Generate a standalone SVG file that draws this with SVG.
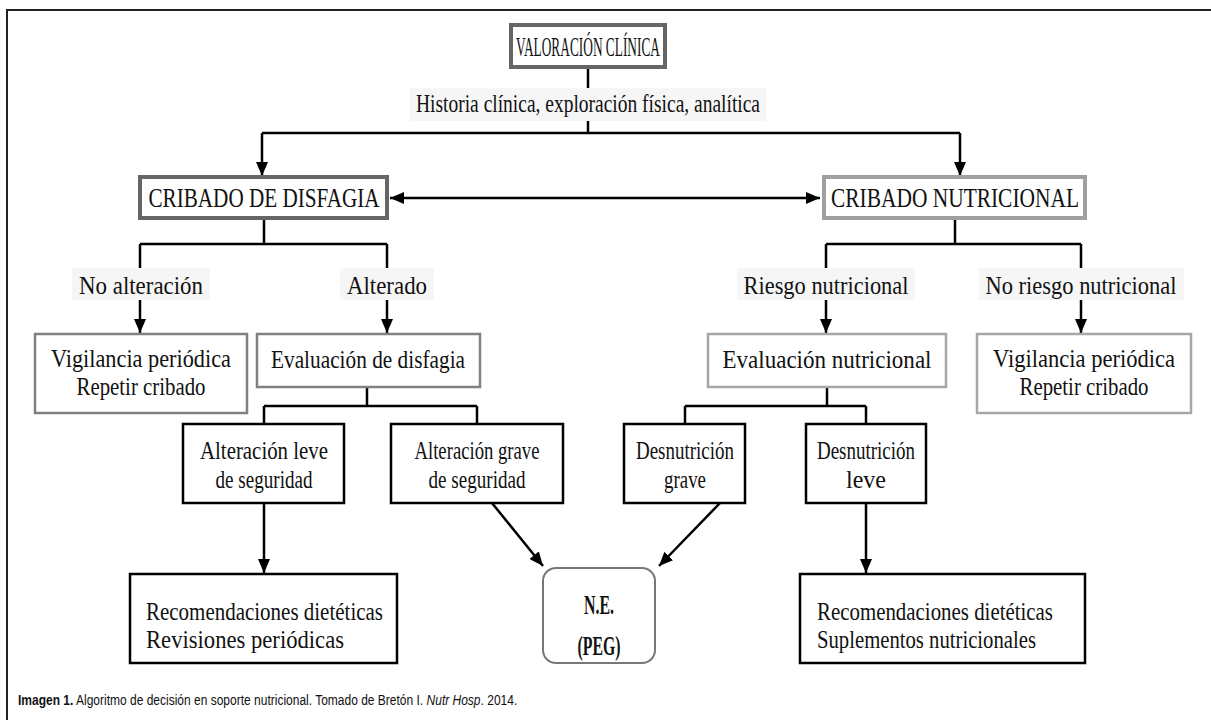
<svg xmlns="http://www.w3.org/2000/svg" width="1211" height="720" viewBox="0 0 1211 720">
<style>
  .t{font-family:"Liberation Serif","Times New Roman",serif;font-size:25px;fill:#111;}
  .u{font-size:27px;}
  .b{font-weight:bold;font-size:27px;}
  .c{text-anchor:middle;}
  .conn{stroke:#000;stroke-width:2.5;fill:none;}
  .arr{marker-end:url(#ah);}
  .lbl{fill:#f6f6f6;stroke:none;}
  .dk{fill:#fff;stroke:#666;stroke-width:4;}
  .md{fill:#fff;stroke:#808080;stroke-width:2.5;}
  .lt{fill:#fff;stroke:#a6a6a6;stroke-width:2.5;}
  .lt4{fill:#fff;stroke:#a0a0a0;stroke-width:4;}
  .bk{fill:#fff;stroke:#000;stroke-width:2.5;}
  .cap{font-family:"Liberation Sans",Arial,sans-serif;font-size:15px;fill:#111;}
</style>
<defs>
  <marker id="ah" viewBox="0 0 14 12" refX="14" refY="6" markerWidth="14" markerHeight="12" markerUnits="userSpaceOnUse" orient="auto-start-reverse">
    <path d="M0,0 L14,6 L0,12 z" fill="#000"/>
  </marker>
</defs>
<rect x="0" y="0" width="1211" height="720" fill="#fff"/>
<path d="M7,720 V10 H1211" fill="none" stroke="#222" stroke-width="2"/>

<g id="connectors">
  <path class="conn" d="M588,67 V133"/>
  <path class="conn" d="M262,133 H960"/>
  <path class="conn arr" d="M262,133 V176"/>
  <path class="conn arr" d="M960,133 V176"/>
  <path class="conn" d="M390,198 H820" marker-start="url(#ah)" marker-end="url(#ah)"/>
  <path class="conn" d="M264,218 V244 M140,244 H387 M140,244 V268 M387,244 V268"/>
  <path class="conn arr" d="M140,300 V333"/>
  <path class="conn arr" d="M387,300 V333"/>
  <path class="conn" d="M955,218 V244 M826,244 H1081 M826,244 V268 M1081,244 V268"/>
  <path class="conn arr" d="M826,300 V333"/>
  <path class="conn arr" d="M1081,300 V333"/>
  <path class="conn" d="M367,387 V406 M264,406 H477 M264,406 V424 M477,406 V424"/>
  <path class="conn" d="M827,387 V406 M685,406 H866 M685,406 V424 M866,406 V424"/>
  <path class="conn arr" d="M264,503 V573"/>
  <path class="conn arr" d="M492,503 L543,566"/>
  <path class="conn arr" d="M720,503 L659,566"/>
  <path class="conn arr" d="M866,503 V573"/>
</g>

<g id="lbl-historia"><rect class="lbl" x="410" y="88" width="356" height="33"/><text class="t c" x="588" y="112" textLength="344" lengthAdjust="spacingAndGlyphs">Historia clínica, exploración física, analítica</text></g>
<g id="lbl-noalteracion"><rect class="lbl" x="72" y="268" width="138" height="32"/><text class="t c" x="141" y="294" textLength="124" lengthAdjust="spacingAndGlyphs">No alteración</text></g>
<g id="lbl-alterado"><rect class="lbl" x="340" y="268" width="94" height="32"/><text class="t c" x="387" y="294" textLength="80" lengthAdjust="spacingAndGlyphs">Alterado</text></g>
<g id="lbl-riesgo"><rect class="lbl" x="737" y="268" width="178" height="32"/><text class="t c" x="826" y="294" textLength="165" lengthAdjust="spacingAndGlyphs">Riesgo nutricional</text></g>
<g id="lbl-noriesgo"><rect class="lbl" x="979" y="268" width="205" height="32"/><text class="t c" x="1081" y="294" textLength="191" lengthAdjust="spacingAndGlyphs">No riesgo nutricional</text></g>

<g id="valoracion"><rect class="dk" x="511" y="25" width="154" height="42"/><text class="t u c" x="588" y="56" textLength="144" lengthAdjust="spacingAndGlyphs">VALORACIÓN CLÍNICA</text></g>
<g id="cribado-disfagia"><rect class="dk" x="140" y="177" width="247" height="41"/><text class="t u c" x="264" y="207" textLength="231" lengthAdjust="spacingAndGlyphs">CRIBADO DE DISFAGIA</text></g>
<g id="cribado-nutricional"><rect class="lt4" x="824" y="177" width="261" height="41"/><text class="t u c" x="955" y="207" textLength="248" lengthAdjust="spacingAndGlyphs">CRIBADO NUTRICIONAL</text></g>

<g id="vigilancia-izq"><rect class="md" x="35" y="334" width="212" height="79"/><text class="t c" x="141" y="367" textLength="180" lengthAdjust="spacingAndGlyphs">Vigilancia periódica</text><text class="t c" x="141" y="395" textLength="129" lengthAdjust="spacingAndGlyphs">Repetir cribado</text></g>
<g id="eval-disfagia"><rect class="md" x="257" y="334" width="223" height="53"/><text class="t c" x="368" y="368" textLength="194" lengthAdjust="spacingAndGlyphs">Evaluación de disfagia</text></g>
<g id="eval-nutricional"><rect class="lt" x="708" y="334" width="238" height="53"/><text class="t c" x="827" y="368" textLength="209" lengthAdjust="spacingAndGlyphs">Evaluación nutricional</text></g>
<g id="vigilancia-der"><rect class="lt" x="977" y="334" width="214" height="79"/><text class="t c" x="1084" y="367" textLength="182" lengthAdjust="spacingAndGlyphs">Vigilancia periódica</text><text class="t c" x="1084" y="395" textLength="129" lengthAdjust="spacingAndGlyphs">Repetir cribado</text></g>

<g id="alt-leve"><rect class="bk" x="183" y="424" width="161" height="79"/><text class="t c" x="264" y="459" textLength="128" lengthAdjust="spacingAndGlyphs">Alteración leve</text><text class="t c" x="264" y="488" textLength="97" lengthAdjust="spacingAndGlyphs">de seguridad</text></g>
<g id="alt-grave"><rect class="bk" x="391" y="424" width="172" height="79"/><text class="t c" x="477" y="459" textLength="125" lengthAdjust="spacingAndGlyphs">Alteración grave</text><text class="t c" x="477" y="488" textLength="97" lengthAdjust="spacingAndGlyphs">de seguridad</text></g>
<g id="desn-grave"><rect class="bk" x="624" y="424" width="121" height="79"/><text class="t c" x="685" y="459" textLength="98" lengthAdjust="spacingAndGlyphs">Desnutrición</text><text class="t c" x="685" y="488" textLength="42" lengthAdjust="spacingAndGlyphs">grave</text></g>
<g id="desn-leve"><rect class="bk" x="806" y="424" width="120" height="79"/><text class="t c" x="866" y="459" textLength="98" lengthAdjust="spacingAndGlyphs">Desnutrición</text><text class="t c" x="866" y="488" textLength="40" lengthAdjust="spacingAndGlyphs">leve</text></g>

<g id="recom-izq"><rect class="bk" x="130" y="574" width="267" height="89"/><text class="t" x="146" y="620" textLength="237" lengthAdjust="spacingAndGlyphs">Recomendaciones dietéticas</text><text class="t" x="146" y="648" textLength="198" lengthAdjust="spacingAndGlyphs">Revisiones periódicas</text></g>
<g id="ne-peg"><rect x="543" y="568" width="112" height="95" rx="13" ry="13" fill="#fff" stroke="#777" stroke-width="2"/><text class="t b c" x="599" y="614" textLength="30" lengthAdjust="spacingAndGlyphs">N.E.</text><text class="t b c" x="599" y="655" textLength="43" lengthAdjust="spacingAndGlyphs">(PEG)</text></g>
<g id="recom-der"><rect class="bk" x="800" y="574" width="285" height="89"/><text class="t" x="817" y="620" textLength="236" lengthAdjust="spacingAndGlyphs">Recomendaciones dietéticas</text><text class="t" x="817" y="648" textLength="219" lengthAdjust="spacingAndGlyphs">Suplementos nutricionales</text></g>

<g id="caption" transform="translate(18,705) scale(0.8,1)">
  <text class="cap" x="0" y="0"><tspan font-weight="bold">Imagen 1.</tspan> Algoritmo de decisión en soporte nutricional. Tomado de Bretón I. <tspan font-style="italic">Nutr Hosp</tspan>. 2014.</text>
</g>
</svg>
